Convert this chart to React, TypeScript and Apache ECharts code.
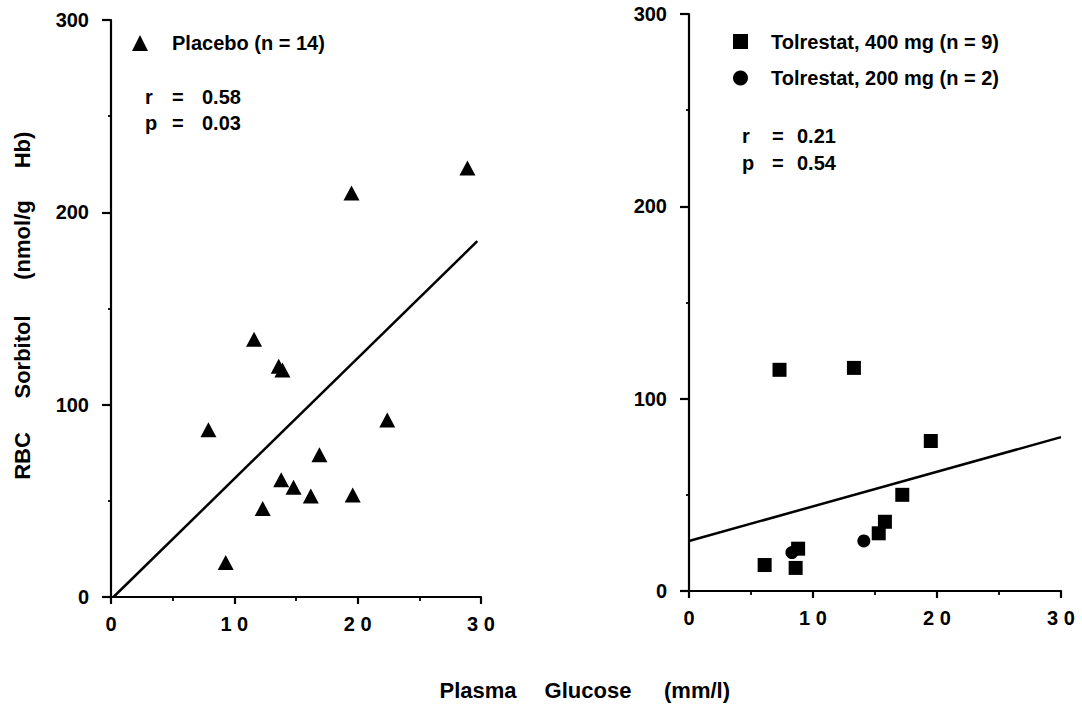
import React, { useEffect, useRef } from "react";
import * as echarts from "echarts";

// ---- Data ----
const xTicks = [0, 10, 20, 30];
const yTicks = [0, 100, 200, 300];

const placeboGlucose = [19.5, 28.9, 11.6, 13.6, 13.9, 7.9, 22.4, 16.9, 13.8, 14.8, 16.2, 19.6, 12.3, 9.3];
const placeboSorbitol = [210, 223, 134, 120, 118, 87, 92, 74, 61, 57, 52.5, 53, 46, 18];

const tol400Glucose = [7.3, 13.3, 19.5, 17.2, 15.8, 15.3, 8.8, 6.1, 8.6];
const tol400Sorbitol = [115, 116, 78, 50, 36, 30, 22, 13.5, 12];

const tol200Glucose = [14.1, 8.3];
const tol200Sorbitol = [26, 20];

const placeboFitX = [0.2, 29.7];
const placeboFitY = [0, 185];
const tolFitX = [0, 30];
const tolFitY = [26, 80];

const placeboLabel = "Placebo (n = 14)";
const tol400Label = "Tolrestat, 400 mg (n = 9)";
const tol200Label = "Tolrestat, 200 mg (n = 2)";
const statsLeft = ["0.58", "0.03"];
const statsRight = ["0.21", "0.54"];
const yTitleWords = ["RBC", "Sorbitol", "(nmol/g", "Hb)"];
const xTitleWords = ["Plasma", "Glucose", "(mm/l)"];

const FONT = "Liberation Sans, Arial, Helvetica, sans-serif";

const zip = (a: number[], b: number[]) => a.map((v, i) => [v, b[i]]);

function makeXAxis(gridIndex: number) {
  return {
    type: "value",
    gridIndex,
    min: xTicks[0],
    max: xTicks[xTicks.length - 1],
    interval: 10,
    axisLine: { show: true, onZero: false, lineStyle: { color: "#000", width: 2.2 } },
    axisTick: { show: true, length: 7, lineStyle: { color: "#000", width: 2.2 } },
    minorTick: { show: true, splitNumber: 2, length: 4, lineStyle: { color: "#000", width: 1.8 } },
    splitLine: { show: false },
    minorSplitLine: { show: false },
    axisLabel: {
      margin: 17,
      color: "#000",
      fontSize: 20,
      fontWeight: "bold",
      fontFamily: FONT,
      formatter: (v: number) => String(v).split("").join(" "),
    },
  };
}

function makeYAxis(gridIndex: number) {
  return {
    type: "value",
    gridIndex,
    min: yTicks[0],
    max: yTicks[yTicks.length - 1],
    interval: 100,
    axisLine: { show: true, onZero: false, lineStyle: { color: "#000", width: 2.2 } },
    axisTick: { show: true, length: 9, lineStyle: { color: "#000", width: 2.2 } },
    minorTick: { show: true, splitNumber: 2, length: 3, lineStyle: { color: "#000", width: 1.8 } },
    splitLine: { show: false },
    minorSplitLine: { show: false },
    axisLabel: {
      margin: 22,
      color: "#000",
      fontSize: 20,
      fontWeight: "bold",
      fontFamily: FONT,
    },
  };
}

function txt(text: string, x: number, y: number, size = 20, align = "left", rotation = 0) {
  return {
    type: "text",
    x,
    y,
    rotation,
    silent: true,
    style: {
      text,
      fill: "#000",
      fontSize: size,
      fontWeight: "bold",
      fontFamily: FONT,
      align,
      verticalAlign: "middle",
    },
  };
}

export default function App() {
  const ref = useRef<HTMLDivElement>(null);

  useEffect(() => {
    if (!ref.current) return;
    const chart = echarts.init(ref.current, undefined, { renderer: "svg" });

    const yTitleCenters = [456, 357, 240, 150];
    const xTitleCenters = [478, 588, 697];

    const graphic: any[] = [
      ...yTitleWords.map((w, i) => txt(w, 22, yTitleCenters[i], 22, "center", Math.PI / 2)),
      ...xTitleWords.map((w, i) => txt(w, xTitleCenters[i], 690, 22, "center")),
      // left legend
      {
        type: "polygon",
        silent: true,
        shape: { points: [[132, 51], [148, 51], [140, 35]] },
        style: { fill: "#000" },
      },
      txt(placeboLabel, 172, 43, 20),
      txt("r", 145, 97, 20),
      txt("=", 172, 97, 20),
      txt(statsLeft[0], 202, 97, 20),
      txt("p", 145, 123, 20),
      txt("=", 172, 123, 20),
      txt(statsLeft[1], 202, 123, 20),
      // right legend
      {
        type: "rect",
        silent: true,
        shape: { x: 733, y: 34, width: 15, height: 15 },
        style: { fill: "#000" },
      },
      txt(tol400Label, 771, 42, 20),
      {
        type: "circle",
        silent: true,
        shape: { cx: 740.5, cy: 78, r: 7.5 },
        style: { fill: "#000" },
      },
      txt(tol200Label, 771, 78, 20),
      txt("r", 742, 136, 20),
      txt("=", 772, 136, 20),
      txt(statsRight[0], 797, 136, 20),
      txt("p", 742, 163, 20),
      txt("=", 772, 163, 20),
      txt(statsRight[1], 797, 163, 20),
    ];

    chart.setOption({
      animation: false,
      backgroundColor: "#fff",
      grid: [
        { left: 111, right: 601, top: 20, bottom: 109 },
        { left: 689, right: 21, top: 14, bottom: 115 },
      ],
      xAxis: [makeXAxis(0), makeXAxis(1)],
      yAxis: [makeYAxis(0), makeYAxis(1)],
      graphic,
      series: [
        {
          name: placeboLabel,
          type: "scatter",
          xAxisIndex: 0,
          yAxisIndex: 0,
          symbol: "triangle",
          symbolSize: [16, 15],
          itemStyle: { color: "#000", opacity: 1 },
          data: zip(placeboGlucose, placeboSorbitol),
        },
        {
          name: "Placebo fit",
          type: "line",
          xAxisIndex: 0,
          yAxisIndex: 0,
          symbol: "none",
          silent: true,
          lineStyle: { color: "#000", width: 2.5 },
          data: zip(placeboFitX, placeboFitY),
        },
        {
          name: tol400Label,
          type: "scatter",
          xAxisIndex: 1,
          yAxisIndex: 1,
          symbol: "rect",
          symbolSize: 14,
          itemStyle: { color: "#000", opacity: 1 },
          data: zip(tol400Glucose, tol400Sorbitol),
        },
        {
          name: tol200Label,
          type: "scatter",
          xAxisIndex: 1,
          yAxisIndex: 1,
          symbol: "circle",
          symbolSize: 13,
          itemStyle: { color: "#000", opacity: 1 },
          data: zip(tol200Glucose, tol200Sorbitol),
        },
        {
          name: "Tolrestat fit",
          type: "line",
          xAxisIndex: 1,
          yAxisIndex: 1,
          symbol: "none",
          silent: true,
          lineStyle: { color: "#000", width: 2.5 },
          data: zip(tolFitX, tolFitY),
        },
      ],
    });

    return () => chart.dispose();
  }, []);

  return (
    <div
      ref={ref}
      style={{ position: "fixed", left: 0, top: 0, width: 1082, height: 706, background: "#fff" }}
    />
  );
}
